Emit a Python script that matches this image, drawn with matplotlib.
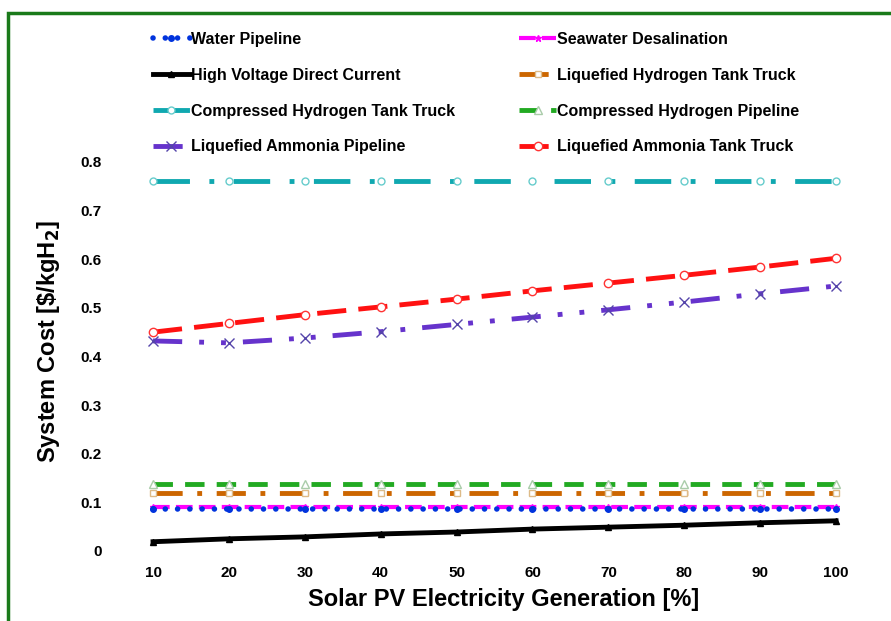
import numpy as np
import matplotlib
matplotlib.use('Agg')
import matplotlib.pyplot as plt
from matplotlib.patches import Rectangle

plt.rcParams['font.family'] = ['Liberation Sans', 'DejaVu Sans']
plt.rcParams['font.weight'] = 'bold'
plt.rcParams['mathtext.default'] = 'bf'

pv = [10, 20, 30, 40, 50, 60, 70, 80, 90, 100]

water_pipeline = [0.087] * 10
seawater_desal = [0.090] * 10
hvdc = [0.019, 0.025, 0.029, 0.035, 0.039, 0.045, 0.049, 0.053, 0.058, 0.062]
lh2_truck = [0.120] * 10
ch2_truck = [0.761] * 10
ch2_pipeline = [0.137] * 10
nh3_pipeline = [0.432, 0.428, 0.438, 0.451, 0.466, 0.481, 0.496, 0.512, 0.529, 0.545]
nh3_truck = [0.450, 0.468, 0.486, 0.502, 0.518, 0.535, 0.551, 0.567, 0.584, 0.602]

fig = plt.figure(figsize=(8.91, 6.21), dpi=100)
fig.patches.append(Rectangle((8/891, -0.1), 1.2, 1 - 13/621 + 0.1, transform=fig.transFigure,
                             fill=False, edgecolor='#1a7a1a', linewidth=2.5))
ax = fig.add_axes([0.1547, 0.0971, 0.8007, 0.6577])

h = {}
h['sw'], = ax.plot(pv, seawater_desal, color='#ff00ff', lw=3, ls=(0, (4, 1.5)),
                   marker='*', ms=5, label='Seawater Desalination')
h['wp'], = ax.plot(pv, water_pipeline, color='#0033dd', lw=4, ls=(0, (0.01, 2.2)),
                   dash_capstyle='round', marker='o', ms=4, label='Water Pipeline')
h['hv'], = ax.plot(pv, hvdc, color='black', lw=3.5, marker='^', ms=5, label='High Voltage Direct Current')
h['lh'], = ax.plot(pv, lh2_truck, color='#cc6600', lw=3.5, ls=(0, (6, 3, 1, 3)),
                   marker='s', ms=5, mfc='white', mec='#ddbb88', mew=1, label='Liquefied Hydrogen Tank Truck')
h['ch'], = ax.plot(pv, ch2_truck, color='#10a8b0', lw=3.5, ls=(0, (7.5, 4, 1, 4)),
                   marker='o', ms=5, mfc='white', mec='#66cccc', mew=1, label='Compressed Hydrogen Tank Truck')
h['cp'], = ax.plot(pv, ch2_pipeline, color='#22aa22', lw=3.5, ls=(0, (4, 2.5)),
                   marker='^', ms=6, mfc='white', mec='#aaccaa', mew=1, label='Compressed Hydrogen Pipeline')
h['np'], = ax.plot(pv, nh3_pipeline, color='#6633cc', lw=3.5, ls=(0, (6, 3.5, 1, 3.5, 1, 3.5)),
                   marker='x', ms=7, mec='#5544aa', mew=1, label='Liquefied Ammonia Pipeline')
h['nt'], = ax.plot(pv, nh3_truck, color='#ff1111', lw=3.5, ls=(0, (6, 2.5)),
                   marker='o', ms=6, mfc='white', mec='#ff3333', mew=1, label='Liquefied Ammonia Tank Truck')

ax.set_xlim(8, 102)
ax.set_ylim(-0.02, 0.82)
ax.set_xticks(pv)
ax.set_yticks([0, 0.1, 0.2, 0.3, 0.4, 0.5, 0.6, 0.7, 0.8])
ax.set_yticklabels(['0', '0.1', '0.2', '0.3', '0.4', '0.5', '0.6', '0.7', '0.8'])
ax.tick_params(length=0, labelsize=11)
ax.tick_params(axis='y', pad=26)
ax.tick_params(axis='x', pad=4)
for s in ax.spines.values():
    s.set_visible(False)
ax.set_xlabel('Solar PV Electricity Generation [%]', fontsize=17, fontweight='bold')
ax.set_ylabel(r'System Cost [\$/kgH$_2$]', fontsize=17, fontweight='bold')
ax.xaxis.set_label_coords(0.5126, -0.068)
ax.yaxis.set_label_coords(-0.107, 0.5355)

order = ['wp', 'hv', 'ch', 'np', 'sw', 'lh', 'cp', 'nt']
fig.legend([h[k] for k in order], [h[k].get_label() for k in order], ncol=2, frameon=False,
           loc='upper left', bbox_to_anchor=(145/891, 1 - 24/621), borderpad=0,
           fontsize=11.5, handlelength=2.3, handletextpad=0.05, labelspacing=1.3,
           columnspacing=4.05)

fig.savefig('out.png', dpi=100)
